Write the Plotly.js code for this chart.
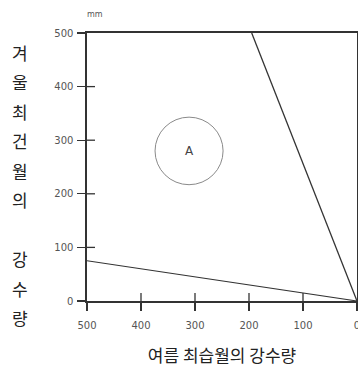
<!DOCTYPE html>
<html>
<head>
<meta charset="utf-8">
<script src="https://cdn.plot.ly/plotly-3.0.1.min.js"></script>
<style>
  html, body { margin: 0; padding: 0; background: #fff; }
  #my_graph { width: 358px; height: 372px; }
</style>
</head>
<body>
<div id="my_graph"></div>
<script>
// summer wettest-month precipitation (x) vs winter driest-month precipitation (y), mm
const tick_values = [0, 100, 200, 300, 400, 500];
const steep_x = [195, 0];
const steep_y = [500, 0];
const flat_x = [500, 0];
const flat_y = [75, 0];
const region_label = 'A';
const region_center = [311, 280];
const region_radius = [63, 63];
const y_title_chars = ['겨', '울', '최', '건', '월', '의', '', '강', '수', '량'];
const x_title = '여름 최습월의 강수량';
const unit_label = 'mm';

const kr_font = '"Noto Sans CJK KR", "Noto Sans", sans-serif';
const line_color = '#333';
const tick_len = 8;

const data = [
    {x: steep_x, y: steep_y, mode: 'lines', line: {color: line_color, width: 1.3}, hoverinfo: 'skip'},
    {x: flat_x, y: flat_y, mode: 'lines', line: {color: line_color, width: 1.1}, hoverinfo: 'skip'}
];

const base_axis = {
    range: [0, 500],
    tickvals: tick_values,
    showgrid: false,
    zeroline: false,
    showline: true,
    linecolor: line_color,
    linewidth: 1.6,
    mirror: true,
    ticks: 'outside',
    ticklen: tick_len,
    tickwidth: 1.3,
    tickcolor: line_color,
    ticklabeloverflow: 'allow',
    tickfont: {family: 'DejaVu Sans, sans-serif', size: 10, color: '#555'}
};

// inner halves of the "+" ticks, sized in pixels off the axis lines
const tick_line = {color: line_color, width: 1.3};
const inner_ticks = tick_values.filter(v => v > 0 && v < 500).flatMap(v => [
    {type: 'line', xref: 'x', yref: 'paper', ysizemode: 'pixel', yanchor: 0,
     x0: v, x1: v, y0: 0, y1: tick_len, line: tick_line},
    {type: 'line', xref: 'paper', yref: 'y', xsizemode: 'pixel', xanchor: 0,
     x0: 0, x1: tick_len, y0: v, y1: v, line: tick_line}
]);

// stacked vertical y title, one char per annotation
const y_step = 29.5;
const y_annotations = y_title_chars
    .map((ch, i) => ({ch, i}))
    .filter(o => o.ch !== '')
    .map(({ch, i}) => ({
        text: ch,
        xref: 'paper', yref: 'paper',
        x: -0.25, y: 1 - (19 + i * y_step) / 268,
        xanchor: 'center', yanchor: 'middle',
        showarrow: false,
        font: {family: kr_font, size: 17, color: '#222'}
    }));

const layout = {
    width: 358,
    height: 372,
    margin: {l: 87, r: 1, t: 33, b: 71},
    paper_bgcolor: '#fff',
    plot_bgcolor: '#fff',
    showlegend: false,
    xaxis: Object.assign({}, base_axis, {
        range: [500, 0],
        ticklabelstandoff: 6,
        title: {text: x_title, font: {family: kr_font, size: 17, color: '#222'}, standoff: 20}
    }),
    yaxis: Object.assign({}, base_axis, {ticklabelstandoff: 2}),
    shapes: [{
        type: 'circle',
        xref: 'x', yref: 'y',
        x0: region_center[0] - region_radius[0], x1: region_center[0] + region_radius[0],
        y0: region_center[1] - region_radius[1], y1: region_center[1] + region_radius[1],
        line: {color: '#8a8a8a', width: 1}
    }].concat(inner_ticks),
    annotations: [
        {text: region_label, xref: 'x', yref: 'y', x: region_center[0], y: region_center[1],
         showarrow: false, font: {family: 'DejaVu Sans, sans-serif', size: 12, color: '#444'}},
        {text: unit_label, xref: 'paper', yref: 'paper', x: 0.03, y: 1.07,
         xanchor: 'center', yanchor: 'middle', showarrow: false,
         font: {family: 'DejaVu Sans, sans-serif', size: 8, color: '#555'}}
    ].concat(y_annotations)
};

Plotly.react('my_graph', data, layout, {staticPlot: true});
</script>
</body>
</html>
